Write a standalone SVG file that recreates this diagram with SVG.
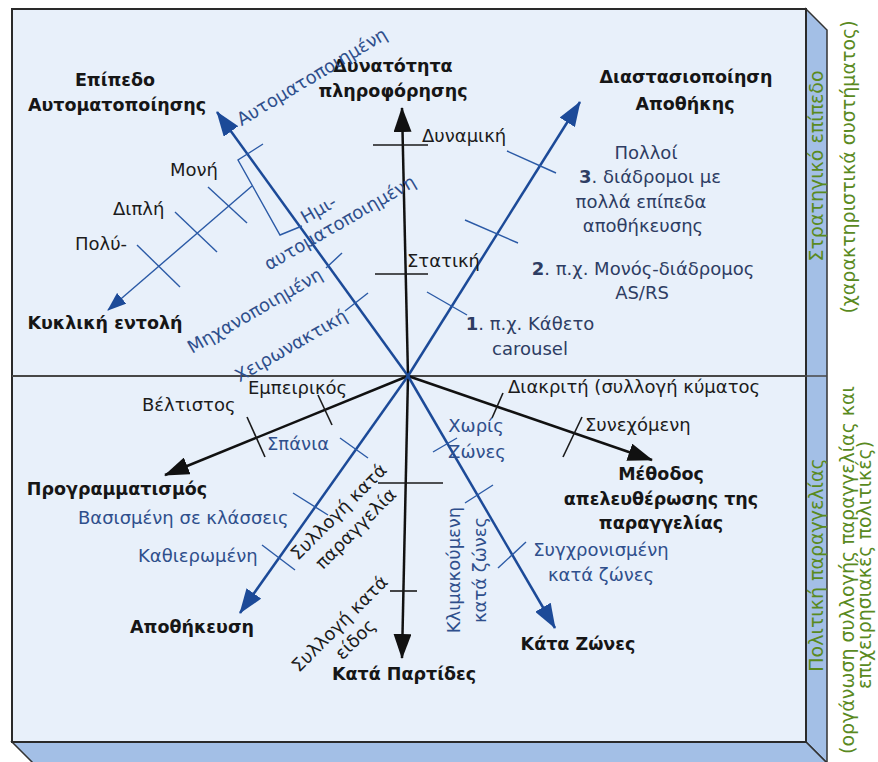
<svg xmlns="http://www.w3.org/2000/svg" width="878" height="762" viewBox="0 0 878 762">
<style>
.b{font-family:"DejaVu Sans","Liberation Sans",sans-serif;font-size:17.5px;font-weight:bold;fill:#161616;text-anchor:middle}
.r{font-family:"DejaVu Sans","Liberation Sans",sans-serif;font-size:18px;fill:#1c1c1c}
.n{font-family:"DejaVu Sans","Liberation Sans",sans-serif;font-size:18px;fill:#2e3d63;text-anchor:middle}
.bl{font-family:"DejaVu Sans","Liberation Sans",sans-serif;font-size:18px;fill:#2f4f8c}
.g{font-family:"DejaVu Sans","Liberation Sans",sans-serif;font-size:19px;fill:#5a8a1f;text-anchor:middle}
.ax{stroke:#111;stroke-width:2.5;fill:none}
.axb{stroke:#1c4a98;stroke-width:2.5;fill:none}
.tk{stroke:#1a1a1a;stroke-width:1.6;fill:none}
.tkb{stroke:#2b5aa6;stroke-width:1.4;fill:none}
</style>
<defs>
<marker id="mk" markerUnits="userSpaceOnUse" markerWidth="26" markerHeight="18" refX="24" refY="9" orient="auto"><path d="M0,0 L25,9 L0,18 Z" fill="#111"/></marker>
<marker id="mb" markerUnits="userSpaceOnUse" markerWidth="26" markerHeight="18" refX="24" refY="9" orient="auto"><path d="M0,0 L25,9 L0,18 Z" fill="#1c4a98"/></marker>
<marker id="ms" markerUnits="userSpaceOnUse" markerWidth="20" markerHeight="14" refX="18" refY="7" orient="auto"><path d="M0,0 L19,7 L0,14 Z" fill="#1c4a98"/></marker>
</defs>
<rect width="878" height="762" fill="#ffffff"/>
<g id="box">
<polygon points="806,9 827,30 827,763 806,742" fill="#a3bfe6" stroke="#333" stroke-width="1.5"/>
<polygon points="12,742 806,742 827,763 33,763" fill="#a3bfe6" stroke="#333" stroke-width="1.5"/>
<rect x="12" y="9" width="794" height="733" fill="#e8f0fa" stroke="#2a2a2a" stroke-width="2"/>
<line x1="12" y1="376" x2="806" y2="376" stroke="#474747" stroke-width="2"/>
<line x1="806" y1="376" x2="827" y2="376" stroke="#474747" stroke-width="1.5"/>
</g>
<g id="connectors">
<line class="ax" x1="408" y1="376" x2="402" y2="108" marker-end="url(#mk)"/>
<line class="ax" x1="408" y1="376" x2="402" y2="658" marker-end="url(#mk)"/>
<line class="ax" x1="408" y1="376" x2="165" y2="475" marker-end="url(#mk)"/>
<line class="ax" x1="408" y1="376" x2="652" y2="460" marker-end="url(#mk)"/>
<line class="axb" x1="408" y1="376" x2="217" y2="112" marker-end="url(#mb)"/>
<line class="axb" x1="408" y1="376" x2="580" y2="102" marker-end="url(#mb)"/>
<line class="axb" x1="408" y1="376" x2="240" y2="613" marker-end="url(#mb)"/>
<line class="axb" x1="408" y1="376" x2="555" y2="628" marker-end="url(#mb)"/>
<line class="tkb" x1="252" y1="186" x2="108" y2="310" marker-end="url(#ms)" stroke-width="1.6"/>
<polyline class="tkb" points="263,144 238,160 280,235 302,226"/>
<line class="tk" x1="373" y1="145" x2="428" y2="145"/>
<line class="tk" x1="375" y1="274" x2="428" y2="274"/>
<line class="tk" x1="378" y1="483" x2="443" y2="483"/>
<line class="tk" x1="390" y1="591" x2="417" y2="591"/>
<line class="tk" x1="318" y1="395" x2="332" y2="425"/>
<line class="tk" x1="247" y1="417" x2="265" y2="457"/>
<line class="tk" x1="503" y1="393" x2="492" y2="418"/>
<line class="tk" x1="582" y1="417" x2="563" y2="457"/>
<line class="tkb" x1="507" y1="151" x2="556" y2="173"/>
<line class="tkb" x1="465" y1="220" x2="518" y2="243"/>
<line class="tkb" x1="427" y1="292" x2="467" y2="315"/>
<line class="tkb" x1="326" y1="268" x2="342" y2="253"/>
<line class="tkb" x1="345" y1="311" x2="368" y2="293"/>
<line class="tkb" x1="340" y1="438" x2="368" y2="458"/>
<line class="tkb" x1="293" y1="493" x2="328" y2="515"/>
<line class="tkb" x1="262" y1="545" x2="295" y2="570"/>
<line class="tkb" x1="433" y1="452" x2="457" y2="438"/>
<line class="tkb" x1="465" y1="503" x2="493" y2="485"/>
<line class="tkb" x1="498" y1="568" x2="526" y2="542"/>
<line class="tkb" x1="208" y1="187" x2="247" y2="223"/>
<line class="tkb" x1="175" y1="212" x2="217" y2="252"/>
<line class="tkb" x1="137" y1="245" x2="180" y2="287"/>
</g>
<g id="node-automation"><text class="b" x="115" y="86">Επίπεδο</text><text class="b" x="117" y="111">Αυτοματοποίησης</text></g>
<g id="node-information"><text class="b" x="393" y="72">Δυνατότητα</text><text class="b" x="393" y="97">πληροφόρησης</text></g>
<g id="node-dimensioning"><text class="b" x="686" y="83">Διαστασιοποίηση</text><text class="b" x="685" y="110">Αποθήκης</text></g>
<g id="node-cyclic"><text class="b" x="105" y="329">Κυκλική εντολή</text></g>
<g id="node-scheduling"><text class="b" x="117" y="495">Προγραμματισμός</text></g>
<g id="node-storage"><text class="b" x="192" y="633">Αποθήκευση</text></g>
<g id="node-batch"><text class="b" x="404" y="680">Κατά Παρτίδες</text></g>
<g id="node-zones"><text class="b" x="578" y="650">Κάτα Ζώνες</text></g>
<g id="node-release"><text class="b" x="661" y="480">Μέθοδος</text><text class="b" x="661" y="505">απελευθέρωσης της</text><text class="b" x="661" y="529">παραγγελίας</text></g>
<g id="labels-black">
<text class="r" x="422" y="142">Δυναμική</text>
<text class="r" x="407" y="267">Στατική</text>
<text class="r" x="248" y="394">Εμπειρικός</text>
<text class="r" x="142" y="411">Βέλτιστος</text>
<text class="r" x="508" y="393">Διακριτή (συλλογή κύματος</text>
<text class="r" x="585" y="431">Συνεχόμενη</text>
<text class="r" x="170" y="176">Μονή</text>
<text class="r" x="113" y="215">Διπλή</text>
<text class="r" x="75" y="250">Πολύ-</text>
<g transform="translate(343,516) rotate(-45)"><text class="r" text-anchor="middle" x="0" y="0">Συλλογή κατά</text><text class="r" text-anchor="middle" x="0" y="24">παραγγελία</text></g>
<g transform="translate(344,628) rotate(-45)"><text class="r" text-anchor="middle" x="0" y="0">Συλλογή κατά</text><text class="r" text-anchor="middle" x="0" y="22">είδος</text></g>
</g>
<g id="labels-dims">
<text class="n" x="646" y="159">Πολλοί</text>
<text class="n" x="650" y="183"><tspan font-weight="bold">3</tspan>. διάδρομοι με</text>
<text class="n" x="641" y="208">πολλά επίπεδα</text>
<text class="n" x="643" y="232">αποθήκευσης</text>
<text class="n" x="643" y="275"><tspan font-weight="bold">2</tspan>. π.χ. Μονός-διάδρομος</text>
<text class="n" x="642" y="299">AS/RS</text>
<text class="n" x="530" y="330"><tspan font-weight="bold">1</tspan>. π.χ. Κάθετο</text>
<text class="n" x="530" y="355">carousel</text>
</g>
<g id="labels-blue">
<text class="bl" x="267" y="450">Σπάνια</text>
<text class="bl" x="78" y="524">Βασισμένη σε κλάσσεις</text>
<text class="bl" x="138" y="562">Καθιερωμένη</text>
<text class="bl" text-anchor="middle" x="476" y="432">Χωρίς</text>
<text class="bl" text-anchor="middle" x="477" y="458">Ζώνες</text>
<text class="bl" text-anchor="middle" x="601" y="556">Συγχρονισμένη</text>
<text class="bl" text-anchor="middle" x="601" y="581">κατά ζώνες</text>
<text class="bl" text-anchor="middle" transform="translate(315,82) rotate(-31)">Αυτοματοποιημένη</text>
<g transform="translate(343,228) rotate(-30)"><text class="bl" text-anchor="middle" x="-12" y="-22">Ημι-</text><text class="bl" text-anchor="middle" x="0" y="0">αυτοματοποιημένη</text></g>
<text class="bl" text-anchor="middle" transform="translate(258,316) rotate(-30)">Μηχανοποιημένη</text>
<text class="bl" text-anchor="middle" transform="translate(294,351) rotate(-30)">Χειρωνακτική</text>
<text class="bl" text-anchor="middle" transform="translate(460,570) rotate(-90)">Κλιμακούμενη</text>
<text class="bl" text-anchor="middle" transform="translate(486,570) rotate(-90)">κατά ζώνες</text>
</g>
<g id="side-labels">
<text class="g" transform="translate(823,166) rotate(-90)">Στρατηγικό επίπεδο</text>
<text class="g" transform="translate(855,167) rotate(-90)">(χαρακτηριστικά συστήματος)</text>
<text class="g" transform="translate(823,565) rotate(-90)">Πολιτική παραγγελίας</text>
<text class="g" transform="translate(854,570) rotate(-90)">(οργάνωση συλλογής παραγγελίας και</text>
<text class="g" transform="translate(871,565) rotate(-90)">επιχειρησιακές πολιτικές)</text>
</g>
</svg>
